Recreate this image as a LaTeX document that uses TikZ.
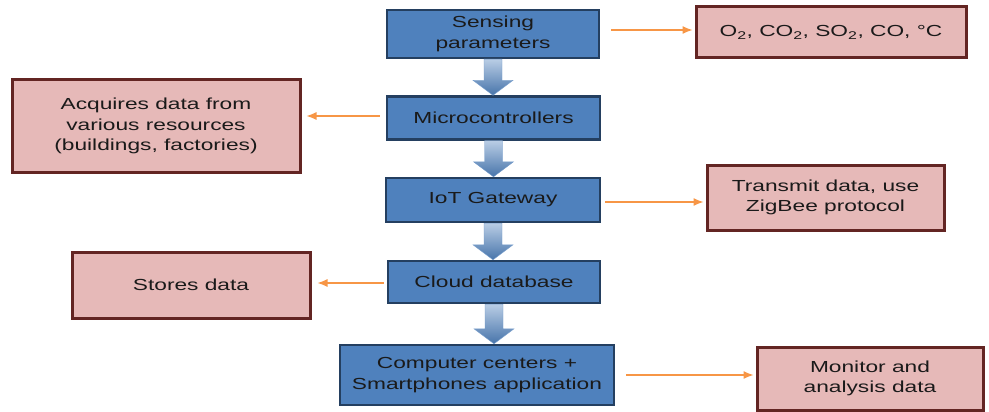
\documentclass[tikz,border=0pt]{standalone}
\usepackage{fontspec}
\setmainfont{Liberation Sans}[FakeStretch=1.42]
\usetikzlibrary{arrows.meta,calc}
\definecolor{bluefill}{HTML}{4F81BD}
\definecolor{blueline}{HTML}{243F60}
\definecolor{pinkfill}{HTML}{E6B9B8}
\definecolor{pinkline}{HTML}{632523}
\definecolor{orarrow}{HTML}{F79646}
\definecolor{arrtop}{HTML}{B9CDE5}
\definecolor{txt}{HTML}{1A1A1A}
\newcommand{\blockarr}[2]{%
  \coordinate (ba) at (#1.south);
  \coordinate (bb) at (ba |- #2.north);
  \path[top color=arrtop, bottom color=bluefill!90!black, draw=bluefill!80!white, line width=0.4pt]
    ([xshift=-9pt]ba) -- ([xshift=9pt]ba) -- ([xshift=9pt,yshift=15pt]bb) --
    ([xshift=20pt,yshift=15pt]bb) -- (bb) -- ([xshift=-20pt,yshift=15pt]bb) --
    ([xshift=-9pt,yshift=15pt]bb) -- cycle;
}
\begin{document}
\begin{tikzpicture}[x=1pt,y=-1pt,
  every node/.style={font=\fontsize{16}{20.5}\selectfont, text=txt, align=center, inner sep=0pt},
  bluebox/.style={draw=blueline, fill=bluefill, line width=2.4pt},
  pinkbox/.style={draw=pinkline, fill=pinkfill, line width=3pt},
  oarr/.style={draw=orarrow, line width=1.2pt, -{Latex[length=10pt,width=8pt]}}]
\useasboundingbox (0,0) rectangle (989,412);
% blue boxes
\node[bluebox, minimum width=212pt, minimum height=48pt] (sense) at (493,34) {Sensing\\parameters};
\node[bluebox, minimum width=213pt, minimum height=43pt] (micro) at (493.5,118) {Microcontrollers};
\node[bluebox, minimum width=214pt, minimum height=44pt] (iot) at (493,200) {IoT Gateway};
\node[bluebox, minimum width=212pt, minimum height=42pt] (cloud) at (494,282) {Cloud database};
\node[bluebox, minimum width=274pt, minimum height=60pt] (comp) at (477,375) {Computer centers +\\Smartphones application};
% pink boxes
\node[pinkbox, minimum width=270pt, minimum height=51pt] (o2) at (831,32.5) {O\textsubscript{2}, CO\textsubscript{2}, SO\textsubscript{2}, CO, °C};
\node[pinkbox, minimum width=288pt, minimum height=92pt] (acq) at (156,126) {Acquires data from\\various resources\\(buildings, factories)};
\node[pinkbox, minimum width=237pt, minimum height=65pt] (trans) at (825.5,197.5) {Transmit data, use\\ZigBee protocol};
\node[pinkbox, minimum width=238pt, minimum height=66pt] (stores) at (191,285) {Stores data};
\node[pinkbox, minimum width=226pt, minimum height=63pt] (mon) at (870,378.5) {Monitor and\\analysis data};
% block arrows
\blockarr{sense}{micro}
\blockarr{micro}{iot}
\blockarr{iot}{cloud}
\blockarr{cloud}{comp}
% orange arrows
\coordinate (s1) at ([yshift=4pt]sense.east);
\draw[oarr, shorten <=11pt, shorten >=2pt] (s1) -- (s1 -| o2.west);
\coordinate (m1) at ([yshift=2pt]micro.west);
\draw[oarr, shorten <=6pt, shorten >=5pt] (m1) -- (m1 -| acq.east);
\coordinate (i1) at ([yshift=-2pt]iot.east);
\draw[oarr, shorten <=4pt, shorten >=2pt] (i1) -- (i1 -| trans.west);
\coordinate (c1) at ([yshift=-1pt]cloud.west);
\draw[oarr, shorten <=3pt, shorten >=6pt] (c1) -- (c1 -| stores.east);
\coordinate (p1) at (comp.east);
\draw[oarr, shorten <=11pt, shorten >=2pt] (p1) -- (p1 -| mon.west);
\end{tikzpicture}
\end{document}
